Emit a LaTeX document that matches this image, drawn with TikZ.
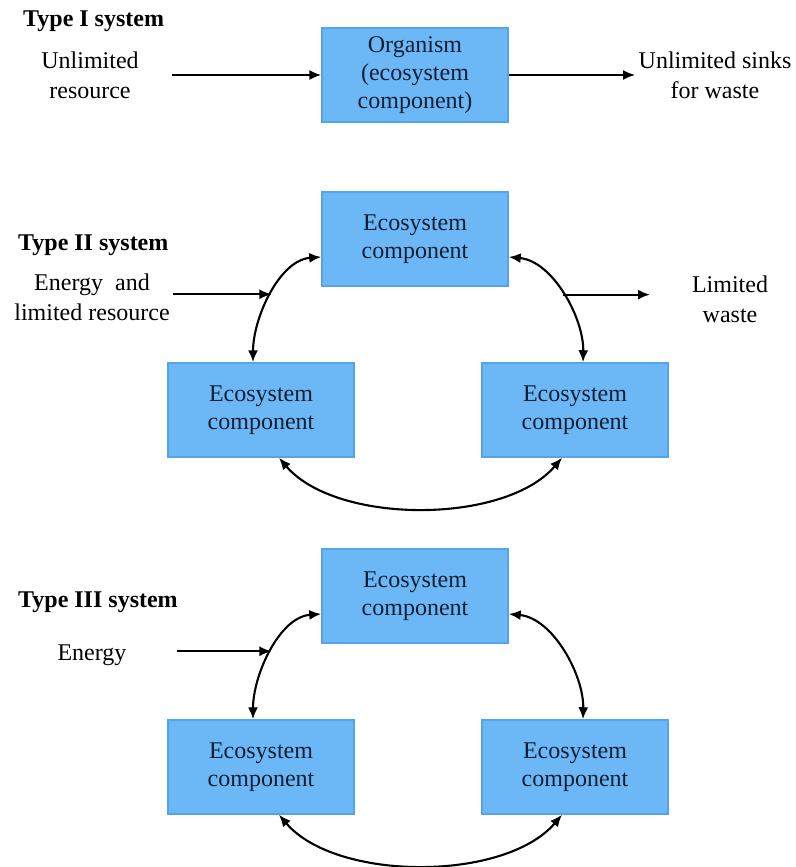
\documentclass[tikz,border=0pt]{standalone}
\usepackage{fontspec}
\setmainfont{Liberation Serif}
\usepackage{xcolor}
\usetikzlibrary{arrows.meta,positioning}
\definecolor{boxblue}{RGB}{108,184,246}
\definecolor{boxline}{RGB}{84,164,235}
\definecolor{boxtext}{RGB}{18,30,52}
\tikzset{%
	comp/.style    = {draw=boxline, fill=boxblue, rectangle, line width=1.5pt, minimum width=186pt, minimum height=94pt, text centered, align=center, text=boxtext, font=\fontsize{24}{28}\selectfont},
	lbl/.style     = {align=center, font=\fontsize{24}{30}\selectfont},
	head/.style    = {anchor=west, inner sep=0pt, font=\bfseries\fontsize{24}{28}\selectfont},
	arrow/.style   = {line width=2.1pt, ->, >={Latex[length=12pt,width=10pt]}},
	twoway/.style  = {line width=2.1pt, <->, >={Latex[length=12pt,width=10pt]}},
}

\begin{document}
\begin{tikzpicture}[x=1pt,y=-1pt]
		\useasboundingbox (0,0) rectangle (795,867);
		
		% Type I
		\node[head] (h1) at (23,21) {Type I system};
		\node[lbl] (res1) at (90,75) {Unlimited\\resource};
		\node[comp] (org) at (415,75) {Organism\\(ecosystem\\component)};
		\node[lbl] (sink1) at (715,75) {Unlimited sinks\\for waste};
		\coordinate (in1) at (172,75);
		\draw[arrow] (in1) -- (org);
		\draw[arrow] (org) -- (sink1);
		
		% Type II and III share the three boxes
		\foreach \s/\y in {2/239,3/596} {
			\node[comp] (top\s) at (415,\y) {Ecosystem\\component};
			\node[comp] (left\s) at (261,\y+171) {Ecosystem\\component};
			\node[comp] (right\s) at (575,\y+171) {Ecosystem\\component};
			\draw[twoway] ([yshift=-18pt]top\s.west) .. controls +(-42,3) and +(0,-44) .. ([xshift=-8pt]left\s.north) coordinate[pos=.5] (ml\s);
			\draw[twoway] ([yshift=-18pt]top\s.east) .. controls +(44,4) and +(1,-44) .. ([xshift=8pt]right\s.north) coordinate[pos=.5] (mr\s);
			\draw[twoway] ([xshift=18pt]left\s.south) .. controls +(57,67) and +(-57,67) .. ([xshift=-13pt]right\s.south);
		}
		
		\node[head] (h2) at (18,245) {Type II system};
		\node[lbl] (en2) at (92,297) {Energy\ \ and\\limited resource};
		\coordinate (in2) at (173,0);
		\draw[arrow, line width=1.6pt] (in2 |- ml2) -- (ml2);
		\node[lbl] (waste2) at (730,299) {Limited\\waste};
		\coordinate (out2) at (650,0);
		\draw[arrow] (mr2) -- (mr2 -| out2);
		
		\node[head] (h3) at (18,602) {Type III system};
		\node[lbl] (en3) at (92,655) {Energy};
		\coordinate (in3) at (177,0);
		\draw[arrow, line width=1.6pt] (in3 |- ml3) -- (ml3);
	\end{tikzpicture}
\end{document}
